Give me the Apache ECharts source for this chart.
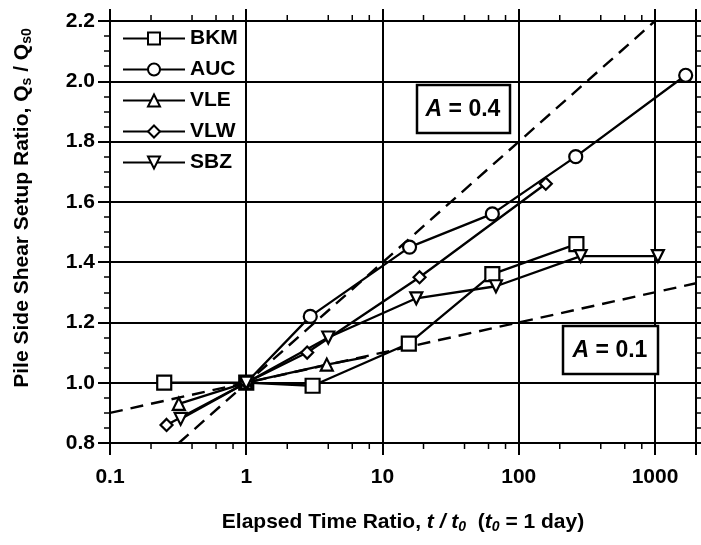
<!DOCTYPE html>
<html><head><meta charset="utf-8">
<script src="https://cdn.jsdelivr.net/npm/echarts@6/dist/echarts.min.js"></script>
<style>html,body{margin:0;padding:0;background:#fff}#c{width:701px;height:545px}</style>
</head><body><div id="c"></div>
<script>
// Data (t/t0, Qs/Qs0)
var bkm = [[0.25,1.0],[1,1.0],[3.07,0.99],[15.6,1.13],[64,1.36],[265,1.46]];
var auc = [[1,1.0],[2.95,1.22],[15.8,1.45],[64,1.56],[262,1.75],[1680,2.02]];
var vle = [[0.32,0.93],[1,1.0],[3.9,1.06],[7.6,1.085]];
var vleHidden = [3];           // index of VLE point drawn without a marker
var vlw = [[0.26,0.86],[1,1.0],[2.8,1.10],[18.7,1.35],[158,1.66]];
var sbz = [[0.33,0.88],[1,1.0],[4.0,1.15],[17.7,1.28],[68,1.32],[285,1.42],[1050,1.42]];
var lineA04 = [[0.32,0.80],[1000,2.2]];
var lineA01 = [[0.1,0.9],[2000,1.33]];
var yTicks = ['0.8','1.0','1.2','1.4','1.6','1.8','2.0','2.2'];
var xTicks = ['0.1','1','10','100','1000'];
var xMinorTicks = [0.2,0.4,0.6,0.8,2,4,6,8,20,40,60,80,200,400,600,800];

var FONT = '"Liberation Sans", Arial, sans-serif';
var chart = echarts.init(document.getElementById('c'));
function ser(name, data, symbol, size){
  return {name:name, type:'line', data:data, symbol:symbol, symbolSize:size,
    lineStyle:{color:'#000',width:2.3}, itemStyle:{color:'#fff',borderColor:'#000',borderWidth:2.2},
    z:5, animation:false};
}
var vleData = vle.map(function(p,i){ return vleHidden.indexOf(i)>=0 ? {value:p,symbol:'none'} : p; });
var tickStyle = {color:'#000',width:2};
var xAxisBase = {type:'log',logBase:10,min:0.1,max:2000,
  axisLine:{show:true,lineStyle:{color:'#000',width:2}},
  axisTick:{show:true,inside:false,length:12,lineStyle:tickStyle},
  minorTick:{show:false}, minorSplitLine:{show:false}};
var yAxisBase = {type:'value',min:0.8,max:2.2,interval:0.2,
  axisLine:{show:true,lineStyle:{color:'#000',width:2}},
  axisTick:{show:true,inside:false,length:12,lineStyle:tickStyle},
  minorTick:{show:true,splitNumber:4,length:6,lineStyle:{color:'#000',width:1.5}}};
var rich = {
  n:{fontFamily:FONT,fontSize:21,fontWeight:'bold',color:'#000'},
  i:{fontFamily:FONT,fontSize:21,fontWeight:'bold',fontStyle:'italic',color:'#000'},
  sub:{fontFamily:FONT,fontSize:14,fontWeight:'bold',color:'#000',padding:[10,0,0,0]},
  isub:{fontFamily:FONT,fontSize:14,fontWeight:'bold',fontStyle:'italic',color:'#000',padding:[10,0,0,0]}
};
chart.setOption({
  animation:false,
  grid:{left:110,right:5,top:21,bottom:102,containLabel:false},
  xAxis:[
    Object.assign({}, xAxisBase, {
      name:'{n|Elapsed Time Ratio, }{i|t / t}{isub|0}{n|  (}{i|t}{isub|0}{n| = 1 day)}',
      nameLocation:'middle',nameGap:67,nameTextStyle:{rich:rich},
      axisLabel:{color:'#000',fontFamily:FONT,fontSize:21,fontWeight:'bold',margin:24,
        formatter:function(v){var s=String(+(+v).toPrecision(3));return xTicks.indexOf(s)>=0?s:'';}},
      splitLine:{show:true,lineStyle:{color:'#000',width:2}}}),
    Object.assign({}, xAxisBase, {position:'top',axisLabel:{show:false},splitLine:{show:false}})
  ],
  yAxis:[
    Object.assign({}, yAxisBase, {
      axisLabel:{color:'#000',fontFamily:FONT,fontSize:21,fontWeight:'bold',margin:15,
        formatter:function(v){var s=(+v).toFixed(1);return yTicks.indexOf(s)>=0?s:'';}},
      splitLine:{show:true,lineStyle:{color:'#000',width:2}}}),
    Object.assign({}, yAxisBase, {position:'right',axisLabel:{show:false},splitLine:{show:false}})
  ],
  legend:{left:117,top:23,orient:'vertical',itemWidth:62,itemHeight:15,itemGap:10,
    textStyle:{fontFamily:FONT,fontSize:21,fontWeight:'bold',color:'#000'},
    data:['BKM','AUC','VLE','VLW','SBZ']},
  graphic:[
    {type:'text',x:22,y:208,rotation:Math.PI/2,
      style:{text:'{n|Pile Side Shear Setup Ratio, Q}{sub|s}{n| / Q}{sub|s0}',rich:rich,align:'center',verticalAlign:'middle'}},
    {type:'rect',shape:{x:417,y:85,width:93,height:48},style:{fill:'#fff',stroke:'#000',lineWidth:2.5},z:10},
    {type:'text',x:463,y:110,style:{text:'{i|A}{n| = 0.4}',rich:{i:{fontFamily:FONT,fontSize:23,fontWeight:'bold',fontStyle:'italic'},n:{fontFamily:FONT,fontSize:23,fontWeight:'bold'}},align:'center',verticalAlign:'middle',fill:'#000'},z:11},
    {type:'rect',shape:{x:563,y:326,width:95,height:48},style:{fill:'#fff',stroke:'#000',lineWidth:2.5},z:10},
    {type:'text',x:610,y:351,style:{text:'{i|A}{n| = 0.1}',rich:{i:{fontFamily:FONT,fontSize:23,fontWeight:'bold',fontStyle:'italic'},n:{fontFamily:FONT,fontSize:23,fontWeight:'bold'}},align:'center',verticalAlign:'middle',fill:'#000'},z:11}
  ],
  series:[
    {name:'A04',type:'line',data:lineA04,symbol:'none',lineStyle:{color:'#000',width:2.4,type:[13,8]},z:3},
    {name:'A01',type:'line',data:lineA01,symbol:'none',lineStyle:{color:'#000',width:2.4,type:[13,8]},z:3},
    ser('BKM',bkm,'rect',14),
    ser('AUC',auc,'circle',13),
    ser('VLE',vleData,'triangle',12),
    ser('VLW',vlw,'diamond',12),
    ser('SBZ',sbz,'path://M0,0 L10,0 L5,10 Z',12),
    {name:'minorX',type:'custom',data:xMinorTicks.map(function(v){return [v,0.8];}),clip:false,silent:true,z:2,
      renderItem:function(params, api){
        var p = api.coord([api.value(0), 0.8]);
        var q = api.coord([api.value(0), 2.2]);
        return {type:'group',children:[
          {type:'line',shape:{x1:p[0],y1:p[1],x2:p[0],y2:p[1]+6},style:{stroke:'#000',lineWidth:1.5}},
          {type:'line',shape:{x1:q[0],y1:q[1],x2:q[0],y2:q[1]-6},style:{stroke:'#000',lineWidth:1.5}}
        ]};
      }}
  ]
});
</script></body></html>
